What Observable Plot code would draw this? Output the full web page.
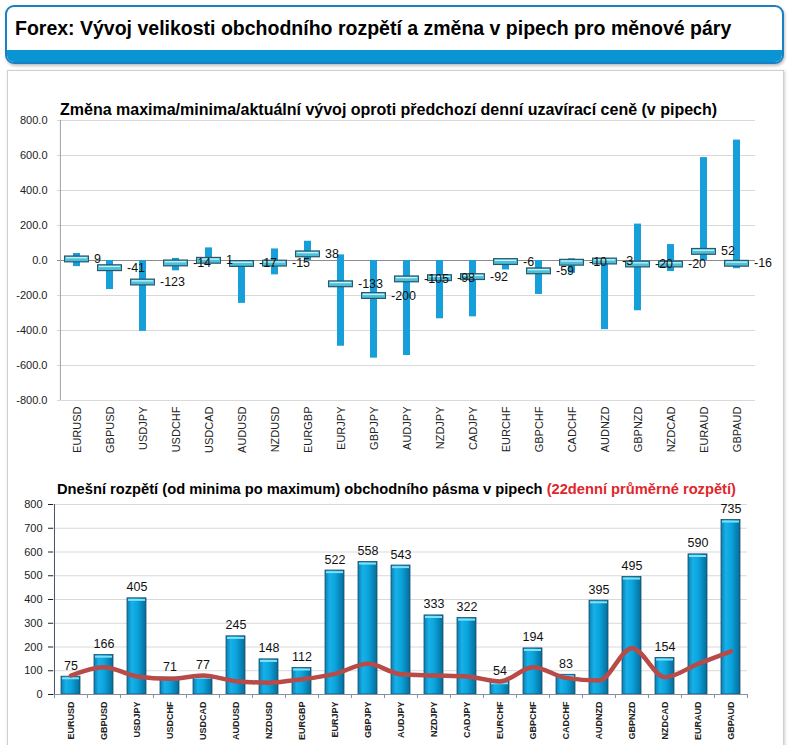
<!DOCTYPE html>
<html><head><meta charset="utf-8">
<script src="https://cdn.jsdelivr.net/npm/d3@7"></script>
<script src="https://cdn.jsdelivr.net/npm/@observablehq/plot@0.6"></script>
<style>
body{margin:0;background:#fff;font-family:"Liberation Sans",Arial,sans-serif;}
#page{position:relative;width:789px;height:745px;overflow:hidden;background:#fff;}
#header{position:absolute;left:5px;top:5px;width:775px;height:55px;border:2px solid #1b7fc2;border-radius:9px;background:#fff;overflow:hidden;box-shadow:1px 2px 3px rgba(0,0,0,0.25);}
#header .strip{position:absolute;left:0;right:0;bottom:0;height:12px;background:#0995d4;}
#header .t{position:absolute;left:8px;top:10px;font-weight:bold;font-size:19.5px;color:#000;white-space:nowrap;}
#panel{position:absolute;left:7px;top:70px;width:775px;height:690px;border:1px solid #cfcfcf;box-shadow:1px 1px 3px rgba(0,0,0,0.2);background:#fff;}
.ctitle{position:absolute;font-weight:bold;white-space:nowrap;color:#000;z-index:2;}
.chart{position:absolute;left:0;z-index:1;}
</style></head>
<body>
<div id="page">
  <div id="header"><div class="t">Forex: Vývoj velikosti obchodního rozpětí a změna v pipech pro měnové páry</div><div class="strip"></div></div>
  <div id="panel"></div>
  <div class="ctitle" style="left:60px;top:101px;font-size:16px;">Změna maxima/minima/aktuální vývoj oproti předchozí denní uzavírací ceně (v pipech)</div>
  <div id="topChart" class="chart" style="top:100px;"></div>
  <div class="ctitle" style="left:57px;top:481px;font-size:14.7px;">Dnešní rozpětí (od minima po maximum) obchodního pásma v pipech <span style="color:#e0262b">(22denní průměrné rozpětí)</span></div>
  <div id="botChart" class="chart" style="top:480px;"></div>
</div>
<script>
// ---- data ----
const pairs = ["EURUSD","GBPUSD","USDJPY","USDCHF","USDCAD","AUDUSD","NZDUSD","EURGBP","EURJPY","GBPJPY","AUDJPY","NZDJPY","CADJPY","EURCHF","GBPCHF","CADCHF","AUDNZD","GBPNZD","NZDCAD","EURAUD","GBPAUD"];
const dayHigh = [40, 0, 0, 12, 72, 0, 66, 110, 32, 0, 0, 0, 0, 0, 0, 10, 0, 208, 91, 588, 688];
const dayLow = [-35, -166, -405, -59, -5, -245, -82, -2, -490, -558, -543, -333, -322, -54, -194, -73, -395, -287, -63, -2, -47];
const change = [9, -41, -123, -14, 1, -17, -15, 38, -133, -200, -105, -98, -92, -6, -59, -10, -3, -20, -20, 52, -16];
const dayRange = [75, 166, 405, 71, 77, 245, 148, 112, 522, 558, 543, 333, 322, 54, 194, 83, 395, 495, 154, 590, 735];
const avg22 = [80, 115, 76, 66, 80, 56, 50, 64, 87, 129, 85, 80, 76, 55, 115, 70, 59, 195, 73, 129, 182];
const topTicks = [-800, -600, -400, -200, 0, 200, 400, 600, 800];
const botTicks = [0, 100, 200, 300, 400, 500, 600, 700, 800];

const topData = pairs.map((p, i) => ({pair: p, high: dayHigh[i], low: dayLow[i], change: change[i]}));
const botData = pairs.map((p, i) => ({pair: p, range: dayRange[i], avg: avg22[i]}));

// ---- top chart ----
const tW = 789, tML = 57, tMR = 34;
const tStep = (tW - tML - tMR) / pairs.length;
const topPlot = Plot.plot({
  width: tW, height: 360, marginLeft: tML, marginRight: tMR, marginTop: 20, marginBottom: 60,
  style: {fontFamily: "Liberation Sans, Arial, sans-serif", fontSize: "11px", background: "transparent", color: "#222", overflow: "visible"},
  x: {domain: pairs, padding: 0, label: null, tickSize: 0, tickRotate: -90, tickPadding: 6},
  y: {domain: [-800, 800], ticks: topTicks, tickFormat: d => d.toFixed(1), label: null, tickSize: 0, tickPadding: 10},
  marks: [
    Plot.ruleY(topTicks, {stroke: "#d9d9d9"}),
    Plot.ruleY([0], {stroke: "#8c8c8c"}),
    Plot.ruleX([pairs[0]], {y1: -800, y2: 800, dx: -tStep / 2, stroke: "#a0a0a0"}),
    Plot.barY(topData, {x: "pair", y1: "low", y2: "high", fill: "#169fd9", insetLeft: 13, insetRight: 13}),
    Plot.tickY(topData, {x: "pair", y: "change", stroke: "#2c5866", strokeWidth: 7, insetLeft: 4, insetRight: 4}),
    Plot.tickY(topData, {x: "pair", y: "change", stroke: "#4bbfdc", strokeWidth: 4.6, insetLeft: 5, insetRight: 5}),
    Plot.tickY(topData, {x: "pair", y: "change", stroke: "#c6f2fb", strokeWidth: 1.3, dy: -1.2, insetLeft: 6, insetRight: 6}),
    Plot.text(topData, {x: "pair", y: "change", text: d => String(d.change), dx: 17, textAnchor: "start", fontSize: 12.5, fill: "#111"})
  ]
});
document.getElementById("topChart").appendChild(topPlot);

// ---- bottom chart ----
const bW = 789, bML = 53, bMR = 42;
const bStep = (bW - bML - bMR) / pairs.length;
const botPlot = Plot.plot({
  width: bW, height: 265, marginLeft: bML, marginRight: bMR, marginTop: 24, marginBottom: 51,
  style: {fontFamily: "Liberation Sans, Arial, sans-serif", fontSize: "11px", background: "transparent", color: "#222", overflow: "visible"},
  x: {domain: pairs, padding: 0, label: null, tickSize: 0, tickRotate: -90, tickPadding: 7},
  y: {domain: [0, 800], ticks: botTicks, label: null, tickSize: 5, tickPadding: 6},
  marks: [
    Plot.ruleY(botTicks.filter(d => d > 0), {stroke: "#d9d9d9"}),
    Plot.barY(botData, {x: "pair", y: "range", fill: "url(#barGrad)", stroke: "#1a4f69", strokeWidth: 0.8, insetLeft: 7, insetRight: 7}),
    Plot.tickY(botData, {x: "pair", y: "range", stroke: "#7fe0f7", strokeWidth: 2, dy: 1.6, insetLeft: 8, insetRight: 8}),
    Plot.ruleY([0], {stroke: "#858e9e"}),
    Plot.ruleX([pairs[0]], {y1: 0, y2: 800, dx: -bStep / 2, stroke: "#44536f"}),
    Plot.ruleX(pairs, {y1: 0, y2: -17, dx: -bStep / 2, stroke: "#858e9e"}),
    Plot.ruleX([pairs[pairs.length - 1]], {y1: 0, y2: -17, dx: bStep / 2, stroke: "#858e9e"}),
    Plot.line(botData, {x: "pair", y: "avg", stroke: "#b84a48", strokeWidth: 4.5, curve: "monotone-x", strokeLinecap: "round", strokeLinejoin: "round"}),
    Plot.text(botData, {x: "pair", y: "range", text: d => String(d.range), dy: -7, lineAnchor: "bottom", fontSize: 12.5, fill: "#111"})
  ]
});
document.getElementById("botChart").appendChild(botPlot);

// gradient definition for the 3D-looking bars
const defs = d3.select(botPlot).insert("defs", ":first-child");
const grad = defs.append("linearGradient").attr("id", "barGrad").attr("x1", "0").attr("x2", "1").attr("y1", "0").attr("y2", "0");
[["0%", "#0a7fb3"], ["25%", "#17b1e8"], ["55%", "#0aa3dc"], ["100%", "#066c99"]].forEach(([o, c]) => grad.append("stop").attr("offset", o).attr("stop-color", c));

// smaller, bolder category labels on the bottom chart
d3.select(botPlot).selectAll('[aria-label^="x-axis"] text').attr("font-size", "9px").attr("font-weight", "bold").attr("fill", "#222");
</script>
</body></html>
